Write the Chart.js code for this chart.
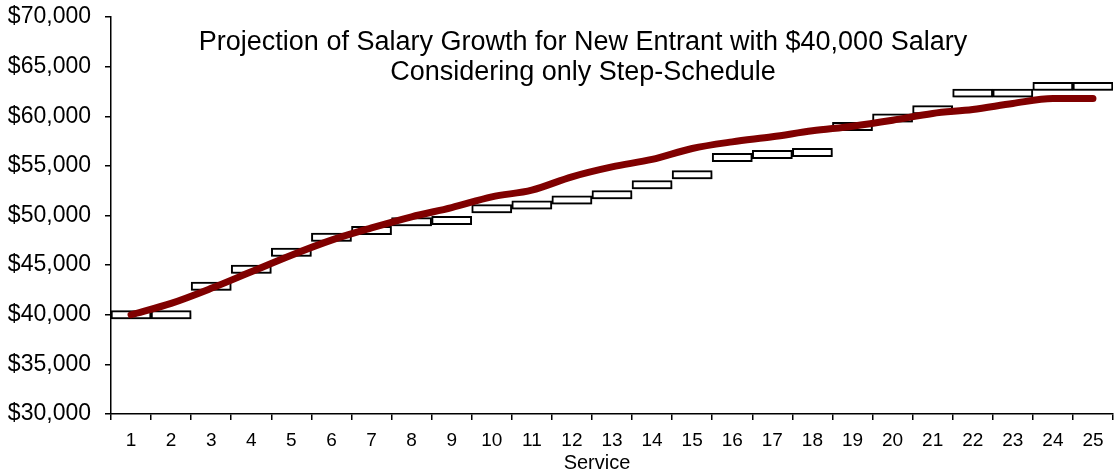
<!DOCTYPE html>
<html>
<head>
<meta charset="utf-8">
<script src="https://cdn.jsdelivr.net/npm/chart.js@4/dist/chart.umd.min.js"></script>
<style>
  html, body { margin: 0; padding: 0; background: #fff; }
  #wrap { width: 1117px; height: 473px; }
</style>
</head>
<body>
<div id="wrap"><canvas id="salaryChart" width="1117" height="473"></canvas></div>
<script>
// years of service
const service = ['1','2','3','4','5','6','7','8','9','10','11','12','13','14','15','16','17','18','19','20','21','22','23','24','25'];
// step-schedule salary (boxes)
const stepSalary = [40000, 40000, 42870, 44580, 46290, 47800, 48480, 49370, 49500, 50670, 51050, 51550, 52100, 53110, 54100, 55850, 56150, 56350, 58970, 59830, 60650, 62330, 62330, 63010, 63010];
// projected salary (smooth red line)
const projectedSalary = [40000, 41150, 42660, 44330, 46000, 47520, 48750, 49870, 50800, 51880, 52560, 53900, 54900, 55650, 56750, 57420, 57930, 58530, 59000, 59600, 60280, 60680, 61290, 61790, 61790];
const yMin = 30000, yMax = 70000, yStep = 5000;
const titleLines = ['Projection of Salary Growth for New Entrant with $40,000 Salary', 'Considering only Step-Schedule'];
const xTitle = 'Service';

const FONT = 'Arial, "Liberation Sans", sans-serif';

// boxes are drawn as floating bars around the step value
const boxes = stepSalary.map(v => [v - 420, v + 420]);

const boxShadow = {
  id: 'boxShadow',
  beforeDatasetDraw(chart, args) {
    if (args.index !== 0) return;
    const ctx = chart.ctx;
    ctx.save();
    ctx.shadowColor = 'rgba(0,0,0,0.4)';
    ctx.shadowBlur = 4;
    ctx.shadowOffsetX = 1;
    ctx.shadowOffsetY = 2;
  },
  afterDatasetDraw(chart, args) {
    if (args.index !== 0) return;
    chart.ctx.restore();
  }
};

// title sits inside the plot area, axis title a bit left of center
const texts = {
  id: 'texts',
  afterDraw(chart) {
    const ctx = chart.ctx;
    ctx.save();
    ctx.fillStyle = '#000';
    ctx.textAlign = 'center';
    ctx.textBaseline = 'middle';
    ctx.font = '27px ' + FONT;
    ctx.fillText(titleLines[0], 583, 43);
    ctx.fillText(titleLines[1], 583, 73);
    ctx.font = '20px ' + FONT;
    ctx.fillText(xTitle, 597, 463);
    ctx.restore();
  }
};

new Chart(document.getElementById('salaryChart'), {
  data: {
    labels: service,
    datasets: [
      {
        type: 'bar',
        data: boxes,
        backgroundColor: '#fff',
        borderColor: '#000',
        borderWidth: 2,
        borderSkipped: false,
        categoryPercentage: 1,
        barPercentage: 1,
        order: 1
      },
      {
        type: 'line',
        data: projectedSalary,
        borderColor: '#800000',
        borderWidth: 7,
        borderCapStyle: 'round',
        pointRadius: 0,
        cubicInterpolationMode: 'monotone',
        fill: false,
        order: 0
      }
    ]
  },
  options: {
    responsive: false,
    animation: false,
    layout: { padding: { top: 17, right: 4, left: 0, bottom: 0 } },
    plugins: {
      legend: { display: false },
      tooltip: { enabled: false }
    },
    scales: {
      x: {
        offset: true,
        grid: { offset: true, drawOnChartArea: false, color: '#000', tickLength: 6, lineWidth: 1.5 },
        border: { color: '#000', width: 1.5 },
        ticks: { color: '#000', font: { family: FONT, size: 19 }, padding: 9, maxRotation: 0, autoSkip: false },
        afterFit(scale) { scale.height = 59; scale.paddingLeft = 0; scale.paddingRight = 0; }
      },
      y: {
        min: yMin,
        max: yMax,
        grid: { drawOnChartArea: false, color: '#000', tickLength: 6, lineWidth: 1.5 },
        border: { color: '#000', width: 1.5 },
        ticks: {
          stepSize: yStep,
          color: '#000',
          padding: 14,
          font: { family: FONT, size: 23 },
          callback: v => '$' + v.toLocaleString('en-US')
        },
        afterFit(scale) { scale.width = 111; scale.paddingTop = 0; scale.paddingBottom = 0; }
      }
    }
  },
  plugins: [boxShadow, texts]
});
</script>
</body>
</html>
